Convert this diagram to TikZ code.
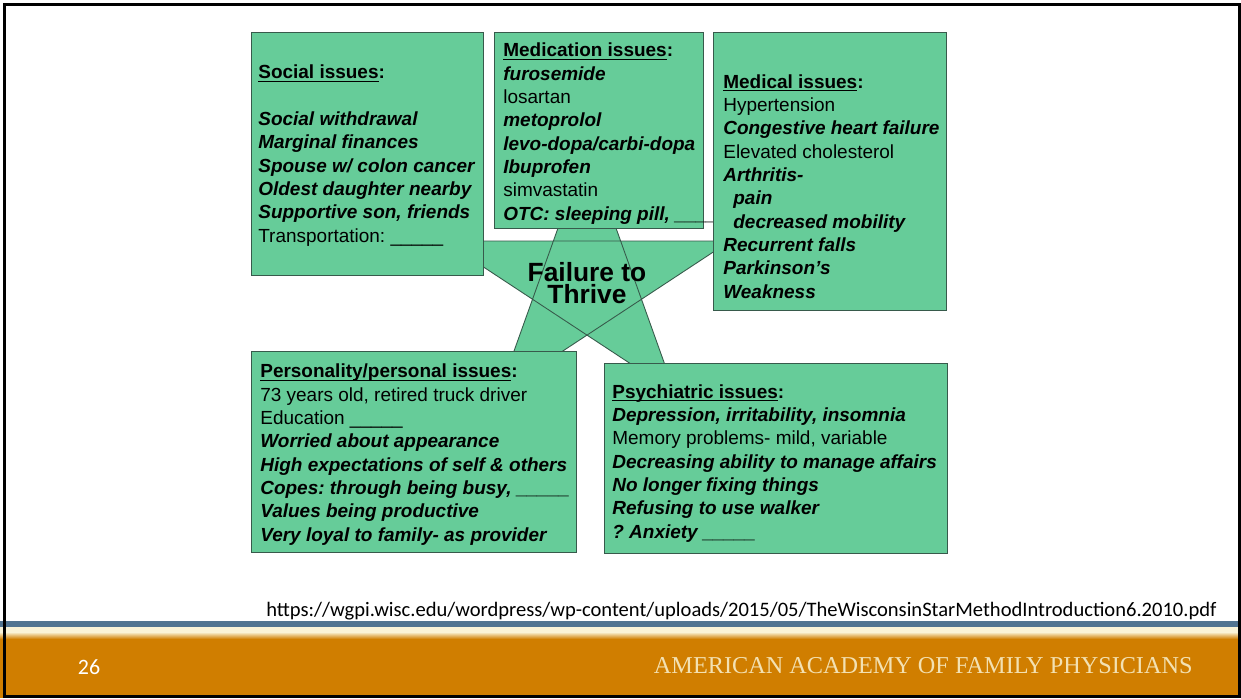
\documentclass[tikz,border=0pt]{standalone}
\usepackage{fontspec}
\setmainfont{Liberation Sans}
\newfontfamily\calibrifont{Carlito}
\newfontfamily\timesfont{Liberation Serif}
\usetikzlibrary{positioning,calc}
\definecolor{boxgreen}{RGB}{102,204,153}
\definecolor{boxline}{RGB}{55,90,75}
\definecolor{barorange}{RGB}{208,126,0}
\definecolor{barblue}{RGB}{82,116,145}
\definecolor{barcream}{RGB}{250,243,215}
\definecolor{aafpcream}{RGB}{243,225,178}
\newcommand{\hd}[1]{\underline{\smash{\textbf{#1}}}\textbf{:}}
\newcommand{\bi}[1]{\textbf{\textit{#1}}}
\newcommand{\blank}{\_\_\_\_\_}
\frenchspacing

\begin{document}
\begin{tikzpicture}[x=0.02cm, y=-0.02cm,
    issuebox/.style={draw=boxline, line width=0.6pt, fill=boxgreen, rectangle, anchor=north west, inner sep=0pt},
    issuetext/.style={anchor=base west, align=left, inner sep=0pt, font=\fontsize{10.8}{13.26}\selectfont}]
    \useasboundingbox (0,0) rectangle (1241,698);
    \fill[white] (0,0) rectangle (1241,698);

    % star behind the boxes
    \coordinate (stop) at (587,147);
    \coordinate (sleft) at (444,241);
    \coordinate (sbl) at (499,393);
    \coordinate (sbr) at (675,393);
    \coordinate (sright) at (730,241);
    \filldraw[fill=boxgreen, draw=boxline, line width=0.5pt] (stop) -- (sbl) -- (sright) -- (sleft) -- (sbr) -- cycle;

    % text nodes sit on the baseline of their last line
    \node (social) [issuebox, minimum width=4.64cm, minimum height=4.86cm] at (251,32) {};
    \node (socialtxt) [issuetext] at (258,242) {\hd{Social issues}\\[13.26pt]
        \bi{Social withdrawal}\\ \bi{Marginal finances}\\ \bi{Spouse w/ colon cancer}\\
        \bi{Oldest daughter nearby}\\ \bi{Supportive son, friends}\\ Transportation: \blank};

    \node (meds) [issuebox, minimum width=4.18cm, minimum height=3.92cm] at (494,32) {};
    \node (medstxt) [issuetext] at (503,220) {\hd{Medication issues}\\ \bi{furosemide}\\ losartan\\
        \bi{metoprolol}\\ \bi{levo-dopa/carbi-dopa}\\ \bi{Ibuprofen}\\ simvastatin\\
        \bi{OTC: sleeping pill, \blank}};

    \node (medical) [issuebox, minimum width=4.66cm, minimum height=5.56cm] at (713,32) {};
    \node (medicaltxt) [issuetext] at (723,298) {\hd{Medical issues}\\ Hypertension\\
        \bi{Congestive heart failure}\\ Elevated cholesterol\\ \bi{Arthritis-}\\
        \hspace*{0.2cm}\bi{pain}\\ \hspace*{0.2cm}\bi{decreased mobility}\\
        \bi{Recurrent falls}\\ \bi{Parkinson’s}\\ \bi{Weakness}};

    \node (personal) [issuebox, minimum width=6.5cm, minimum height=4.02cm] at (251,351) {};
    \node (personaltxt) [issuetext] at (260,541) {\hd{Personality/personal issues}\\
        73 years old, retired truck driver\\ Education \blank\\ \bi{Worried about appearance}\\
        \bi{High expectations of self \& others}\\ \bi{Copes: through being busy, \blank}\\
        \bi{Values being productive}\\ \bi{Very loyal to family- as provider}};

    \node (psych) [issuebox, minimum width=6.86cm, minimum height=3.8cm] at (604,363) {};
    \node (psychtxt) [issuetext] at (612,538) {\hd{Psychiatric issues}\\
        \bi{Depression, irritability, insomnia}\\ Memory problems- mild, variable\\
        \bi{Decreasing ability to manage affairs}\\ \bi{No longer fixing things}\\
        \bi{Refusing to use walker}\\ \bi{? Anxiety \blank}};

    \node (ftt) [anchor=base, align=center, inner sep=0pt, font=\bfseries\fontsize{15}{12}\selectfont] at (587,303) {Failure to\\Thrive};

    % footer
    \node (url) [anchor=base east, inner sep=0pt, font=\calibrifont\fontsize{11.7}{14}\selectfont] at (1217,616)
        {https://wgpi.wisc.edu/wordpress/wp-content/uploads/2015/05/TheWisconsinStarMethodIntroduction6.2010.pdf};
    \fill[barorange] (0,632) rectangle (1241,698);
    \fill[barblue] (0,621) rectangle (1241,627);
    \fill[barcream] (0,627) rectangle (1241,632);
    \shade[top color=barcream, bottom color=barorange] (0,632) rectangle (1241,639);
    \node (pagenum) [anchor=base, inner sep=0pt, text=white, font=\calibrifont\fontsize{12.5}{15}\selectfont] at (89,674) {26};
    \node (aafp) [anchor=base east, inner sep=0pt, text=aafpcream, font=\timesfont\fontsize{13.8}{16}\selectfont] at (1193,673) {AMERICAN ACADEMY OF FAMILY PHYSICIANS};

    \draw[line width=0.055cm] (4.5,4.5) rectangle (1239.5,696.5);
\end{tikzpicture}
\end{document}
